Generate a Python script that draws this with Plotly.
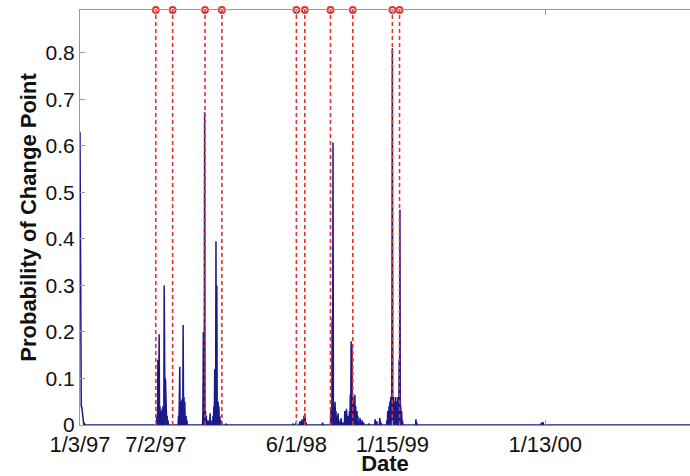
import numpy as np
import pandas as pd
import plotly.graph_objects as go

START = pd.Timestamp("1997-01-03")
N_DAYS = 1450

# spike locations (calendar days after 1/3/97) and probabilities
spike_days = [0, 1, 2, 3, 4, 5, 6, 7, 8, 10,
              183, 185, 188, 190, 192, 195, 197, 200, 203, 204, 207, 209,
              234, 236, 237, 240, 242, 245, 247, 249, 252, 254,
              292, 293, 296, 298, 300, 304, 309, 311, 316, 318, 320, 323, 325, 328, 330, 332, 335, 347,
              506, 513, 522, 527, 532, 534, 537, 576,
              596, 599, 601, 603, 606, 608, 610, 613, 615, 620, 625, 629, 633, 636, 640, 642, 644,
              646, 648, 651, 653, 655, 658, 660, 665, 670, 674, 686, 701, 705, 712, 715,
              729, 731, 734, 736, 738, 741, 742, 745, 746, 748, 750, 753, 755, 758, 760, 762,
              764, 766, 798, 800, 1096, 1100]
spike_probs = [0.63, 0.22, 0.05, 0.04, 0.04, 0.03, 0.02, 0.015, 0.01, 0.005,
               0.02, 0.14, 0.195, 0.04, 0.03, 0.035, 0.04, 0.30, 0.10, 0.04, 0.02, 0.01,
               0.02, 0.06, 0.125, 0.05, 0.055, 0.215, 0.06, 0.05, 0.02, 0.01,
               0.03, 0.20, 0.672, 0.03, 0.02, 0.01, 0.025, 0.01, 0.02, 0.04, 0.12, 0.395, 0.30, 0.05, 0.04, 0.02, 0.01, 0.003,
               0.003, 0.005, 0.008, 0.012, 0.02, 0.025, 0.005, 0.005,
               0.03, 0.23, 0.607, 0.04, 0.05, 0.03, 0.02, 0.025, 0.01, 0.015, 0.005, 0.03, 0.035, 0.02, 0.03, 0.065, 0.18,
               0.17, 0.05, 0.06, 0.065, 0.04, 0.03, 0.02, 0.015, 0.01, 0.005, 0.003, 0.012, 0.008, 0.015, 0.005,
               0.01, 0.03, 0.04, 0.05, 0.06, 0.21, 0.81, 0.06, 0.04, 0.05, 0.06, 0.05, 0.06, 0.14, 0.463, 0.04,
               0.03, 0.01, 0.012, 0.005, 0.005, 0.006]

# detected change points (days after 1/3/97)
change_days = [180, 220, 297, 337, 514, 534, 595, 648, 742, 759]

tick_dates = ["1997-01-03", "1997-07-02", "1998-06-01", "1999-01-15", "2000-01-13"]
tick_labels = ["1/3/97", "7/2/97", "6/1/98", "1/15/99", "1/13/00"]

Y_TOP = 0.892

prob = np.zeros(N_DAYS)
prob[spike_days] = spike_probs
dates = START + pd.to_timedelta(np.arange(N_DAYS), unit="D")

cp_dates = START + pd.to_timedelta(change_days, unit="D")
lx, ly = [], []
for d in cp_dates:
    lx += [d, d, None]
    ly += [0, Y_TOP, None]

FONT = "Liberation Sans, Arial, Helvetica, sans-serif"
BLUE = "#1a1a8a"
RED = "#e8302c"

fig = go.Figure()
fig.add_trace(go.Scatter(x=dates, y=prob, mode="lines",
                         line=dict(color=BLUE, width=1.5), showlegend=False))
fig.add_trace(go.Scatter(x=lx, y=ly, mode="lines",
                         line=dict(color=RED, width=1.6, dash="4px,3px"), showlegend=False))
fig.add_trace(go.Scatter(x=cp_dates, y=[Y_TOP] * len(cp_dates), mode="markers",
                         marker=dict(symbol="circle-open", size=6, color=RED,
                                     line=dict(width=1.8, color=RED)),
                         cliponaxis=False, showlegend=False))

fig.update_layout(
    width=690, height=476,
    margin=dict(l=80, r=0, t=10, b=44),
    paper_bgcolor="white", plot_bgcolor="white",
    font=dict(family=FONT, color="#111111"),
    xaxis=dict(
        type="date",
        range=[START, START + pd.Timedelta(days=1449)],
        tickvals=pd.to_datetime(tick_dates), ticktext=tick_labels,
        tickfont=dict(size=22), ticks="inside", ticklen=5, tickcolor="#999999",
        showline=True, linecolor="#999999", linewidth=1, mirror="ticks",
        showgrid=False, zeroline=False,
        title=dict(text="<b>Date</b>", font=dict(size=22), standoff=3),
    ),
    yaxis=dict(
        range=[0, Y_TOP],
        tickvals=[0, 0.1, 0.2, 0.3, 0.4, 0.5, 0.6, 0.7, 0.8],
        ticktext=["0", "0.1", "0.2", "0.3", "0.4", "0.5", "0.6", "0.7", "0.8"],
        tickfont=dict(size=21), ticks="inside", ticklen=5, tickcolor="#999999",
        showline=True, linecolor="#999999", linewidth=1, mirror=False,
        showgrid=False, zeroline=False,
        title=dict(text="<b>Probability of Change Point</b>", font=dict(size=22), standoff=2),
    ),
)

fig.write_html("out.html")
